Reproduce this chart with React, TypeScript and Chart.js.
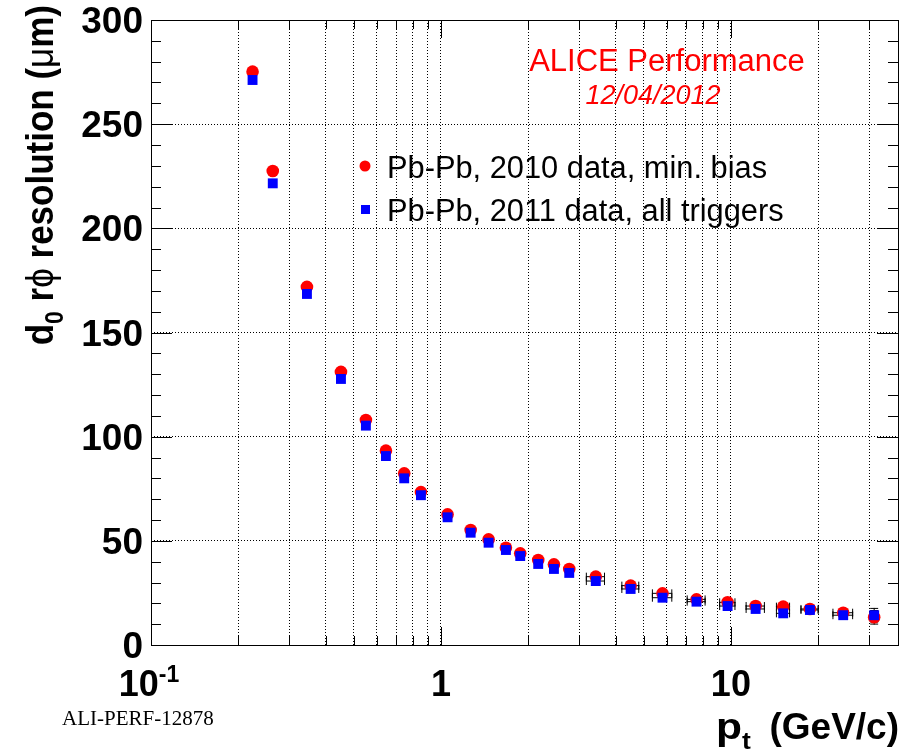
import React, { useEffect, useRef } from 'react';
import { Chart, registerables } from 'chart.js';
Chart.register(...registerables);

// ---- data ----
const ptValues = [0.224, 0.263, 0.345, 0.452, 0.551, 0.646, 0.747, 0.853, 1.054, 1.266, 1.46, 1.675, 1.877, 2.165, 2.453, 2.77, 3.42, 4.51, 5.81, 7.61, 9.74, 12.17, 15.15, 18.73, 24.4, 31.2];
const res2010 = [275.2, 227.5, 171.9, 131.1, 108.0, 93.3, 82.4, 73.4, 62.7, 55.2, 50.7, 46.7, 44.0, 40.8, 38.7, 36.5, 32.8, 28.5, 24.8, 21.9, 20.5, 18.7, 18.4, 17.3, 15.5, 13.3];
const res2011 = [271.2, 221.6, 168.5, 127.7, 105.3, 90.7, 80.0, 71.9, 61.3, 53.9, 49.1, 45.6, 42.7, 38.9, 36.5, 34.6, 30.7, 26.9, 22.7, 20.8, 18.7, 17.3, 15.2, 16.8, 14.3, 14.3];
const ptErr = [0, 0, 0, 0, 0, 0, 0, 0, 0, 0, 0, 0, 0, 0, 0, 0, 0.26, 0.32, 0.47, 0.57, 0.63, 0.93, 0.85, 1.35, 2.0, 1.2];
const resErr2010 = [0, 0, 0, 0, 0, 0, 0, 0, 0, 0, 0, 0, 0, 0, 0, 0, 0, 0, 0, 0, 0, 0, 0, 0, 0, 3.5];
const resErr2011 = [0, 0, 0, 0, 0, 0, 0, 0, 0, 0, 0, 0, 0, 0, 0, 0, 0, 0, 0, 0, 0, 0, 0, 0, 0, 3.5];

const xGridValues = [0.2, 0.3, 0.4, 0.5, 0.6, 0.7, 0.8, 0.9, 1, 2, 3, 4, 5, 6, 7, 8, 9, 10, 20, 30];
const xMajorValues = [1, 10];
const yGridValues = [50, 100, 150, 200, 250];
const yTickValues = [0, 50, 100, 150, 200, 250, 300];
const yMinorValues = [10, 20, 30, 40, 60, 70, 80, 90, 110, 120, 130, 140, 160, 170, 180, 190, 210, 220, 230, 240, 260, 270, 280, 290];

const label2010 = 'Pb-Pb, 2010 data, min. bias';
const label2011 = 'Pb-Pb, 2011 data, all triggers';

const SANS = '"Liberation Sans", Arial, Helvetica, sans-serif';
const SERIF = '"Liberation Serif", "Times New Roman", serif';

type Seg = { t: string; f: string; dy?: number };

function segWidth(ctx: CanvasRenderingContext2D, segs: Seg[]) {
  let w = 0;
  for (const s of segs) { ctx.font = s.f; w += ctx.measureText(s.t).width; }
  return w;
}
function drawSegs(ctx: CanvasRenderingContext2D, segs: Seg[], x: number, y: number) {
  let cx = x;
  for (const s of segs) {
    ctx.font = s.f;
    ctx.fillText(s.t, cx, y + (s.dy || 0));
    cx += ctx.measureText(s.t).width;
  }
}

const errorBarPlugin = {
  id: 'errorBars',
  beforeDatasetsDraw(chart: any) {
    const { ctx, scales } = chart;
    const xs = scales.x, ys = scales.y;
    ctx.save();
    ctx.strokeStyle = '#000';
    ctx.lineWidth = 1;
    const series = [res2010, res2011];
    const yerrs = [resErr2010, resErr2011];
    series.forEach((vals, si) => {
      vals.forEach((v, i) => {
        const px = xs.getPixelForValue(ptValues[i]);
        const py = ys.getPixelForValue(v);
        const e = ptErr[i];
        if (e > 0) {
          const x1 = xs.getPixelForValue(ptValues[i] - e);
          const x2 = xs.getPixelForValue(ptValues[i] + e);
          ctx.beginPath();
          ctx.moveTo(x1, py); ctx.lineTo(x2, py);
          ctx.moveTo(x1 + 0.5, py - 4); ctx.lineTo(x1 + 0.5, py + 4);
          ctx.moveTo(x2 - 0.5, py - 4); ctx.lineTo(x2 - 0.5, py + 4);
          ctx.stroke();
        }
        const ye = yerrs[si][i];
        if (ye > 0) {
          const y1 = ys.getPixelForValue(v - ye);
          const y2 = ys.getPixelForValue(v + ye);
          ctx.beginPath();
          ctx.moveTo(px, y1); ctx.lineTo(px, y2);
          ctx.moveTo(px - 4, y1 - 0.5); ctx.lineTo(px + 4, y1 - 0.5);
          ctx.moveTo(px - 4, y2 + 0.5); ctx.lineTo(px + 4, y2 + 0.5);
          ctx.stroke();
        }
      });
    });
    ctx.restore();
  },
};

const decorPlugin = {
  id: 'decor',
  afterDraw(chart: any) {
    const { ctx, chartArea, scales } = chart;
    const xs = scales.x, ys = scales.y;
    const { left, right, top, bottom } = chartArea;
    ctx.save();
    // frame
    ctx.strokeStyle = '#000';
    ctx.lineWidth = 1;
    ctx.strokeRect(Math.round(left) + 0.5, Math.round(top) + 0.5, Math.round(right - left), Math.round(bottom - top));
    // y ticks (inward, both sides)
    ctx.beginPath();
    for (const v of yTickValues.concat(yMinorValues)) {
      const py = Math.round(ys.getPixelForValue(v)) + 0.5;
      const len = yTickValues.includes(v) ? 21 : 10;
      ctx.moveTo(left, py); ctx.lineTo(left + len, py);
      ctx.moveTo(right, py); ctx.lineTo(right - len, py);
    }
    for (const v of xGridValues) {
      const px = Math.round(xs.getPixelForValue(v)) + 0.5;
      const len = xMajorValues.includes(v) ? 18 : 9;
      ctx.moveTo(px, bottom); ctx.lineTo(px, bottom - len);
      ctx.moveTo(px, top); ctx.lineTo(px, top + len);
    }
    ctx.stroke();

    ctx.fillStyle = '#000';
    // y tick labels
    ctx.font = `bold 37px ${SANS}`;
    ctx.textAlign = 'right';
    ctx.textBaseline = 'alphabetic';
    for (const v of yTickValues) {
      ctx.fillText(String(v), left - 8, ys.getPixelForValue(v) + 13);
    }
    // x tick labels
    ctx.textAlign = 'center';
    const xlabY = 696;
    ctx.font = `bold 36px ${SANS}`;
    ctx.fillText('1', xs.getPixelForValue(1), xlabY);
    ctx.fillText('10', xs.getPixelForValue(10), xlabY);
    ctx.textAlign = 'left';
    const segs01: Seg[] = [{ t: '10', f: `bold 36px ${SANS}` }, { t: '-1', f: `bold 23px ${SANS}`, dy: -14 }];
    const w01 = segWidth(ctx, segs01);
    drawSegs(ctx, segs01, xs.getPixelForValue(0.1) - w01 / 2 - 2, xlabY);

    // x title
    ctx.save();
    ctx.translate(716, 739);
    ctx.scale(1.15, 1);
    drawSegs(ctx, [
      { t: 'p', f: `bold 37px ${SANS}` },
      { t: 't', f: `bold 23px ${SANS}`, dy: 10 },
    ], 0, 0);
    ctx.restore();
    ctx.textAlign = 'right';
    ctx.font = `bold 37px ${SANS}`;
    ctx.fillText('(GeV/c)', 899, 739);
    ctx.textAlign = 'left';

    // y title (rotated)
    const yt: Seg[] = [
      { t: 'd', f: `bold 35px ${SANS}` },
      { t: '0', f: `bold 23px ${SANS}`, dy: 9 },
      { t: ' r', f: `bold 35px ${SANS}` },
      { t: '\u03D5', f: `35px ${SANS}` },
      { t: ' resolution (', f: `bold 35px ${SANS}` },
      { t: '\u03BC', f: `35px ${SANS}` },
      { t: 'm)', f: `bold 35px ${SANS}` },
    ];
    const wyt = segWidth(ctx, yt);
    ctx.save();
    ctx.translate(53, 5 + wyt);
    ctx.scale(1.12, 1);
    ctx.rotate(-Math.PI / 2);
    drawSegs(ctx, yt, 0, 0);
    ctx.restore();

    // ALI-PERF
    ctx.font = `21px ${SERIF}`;
    ctx.textAlign = 'left';
    ctx.fillText('ALI-PERF-12878', 62, 725);

    // ALICE Performance
    ctx.fillStyle = '#ff0000';
    ctx.textAlign = 'center';
    ctx.font = `31px ${SANS}`;
    ctx.fillText('ALICE Performance', 667, 71);
    ctx.font = `italic 27px ${SANS}`;
    ctx.fillText('12/04/2012', 653, 104);

    // legend
    ctx.textAlign = 'left';
    ctx.fillStyle = '#ff0000';
    ctx.beginPath();
    ctx.arc(365, 166, 5.5, 0, Math.PI * 2);
    ctx.fill();
    ctx.fillStyle = '#0000ff';
    ctx.fillRect(361, 205, 9, 9);
    ctx.fillStyle = '#000';
    ctx.font = `30.8px ${SANS}`;
    ctx.fillText(label2010, 387, 178);
    ctx.fillText(label2011, 387, 221);
    ctx.restore();
  },
};

export default function App() {
  const canvasRef = useRef<HTMLCanvasElement | null>(null);
  useEffect(() => {
    if (!canvasRef.current) return;
    const gridOpts = { color: '#000', lineWidth: 1, drawTicks: false };
    const chart = new Chart(canvasRef.current, {
      type: 'scatter',
      data: {
        datasets: [
          {
            label: label2011,
            data: ptValues.map((x, i) => ({ x, y: res2011[i] })),
            pointStyle: 'rect',
            pointRadius: 7,
            backgroundColor: '#0000ff',
            borderColor: '#0000ff',
            borderWidth: 0,
            order: 0,
          },
          {
            label: label2010,
            data: ptValues.map((x, i) => ({ x, y: res2010[i] })),
            pointStyle: 'circle',
            pointRadius: 6.3,
            backgroundColor: '#ff0000',
            borderColor: '#ff0000',
            borderWidth: 0,
            order: 1,
          },
        ],
      },
      options: {
        responsive: false,
        animation: false,
        devicePixelRatio: 1,
        events: [],
        layout: { padding: { left: 0, top: 20, right: 11, bottom: 0 } },
        plugins: { legend: { display: false }, tooltip: { enabled: false } },
        scales: {
          x: {
            type: 'logarithmic',
            min: 0.1,
            max: 37.7,
            afterBuildTicks: (s: any) => { s.ticks = xGridValues.map((v) => ({ value: v })); },
            afterFit: (s: any) => { s.height = 110; },
            ticks: { display: false },
            grid: gridOpts,
            border: { display: false, dash: [1, 2] },
          },
          y: {
            type: 'linear',
            min: 0,
            max: 300,
            afterBuildTicks: (s: any) => { s.ticks = yGridValues.map((v) => ({ value: v })); },
            afterFit: (s: any) => { s.width = 151; },
            ticks: { display: false },
            grid: gridOpts,
            border: { display: false, dash: [1, 2] },
          },
        },
      } as any,
      plugins: [errorBarPlugin, decorPlugin],
    });
    return () => chart.destroy();
  }, []);
  return (
    <canvas
      ref={canvasRef}
      width={909}
      height={755}
      style={{ position: 'absolute', left: 0, top: 0, width: 909, height: 755 }}
    />
  );
}
